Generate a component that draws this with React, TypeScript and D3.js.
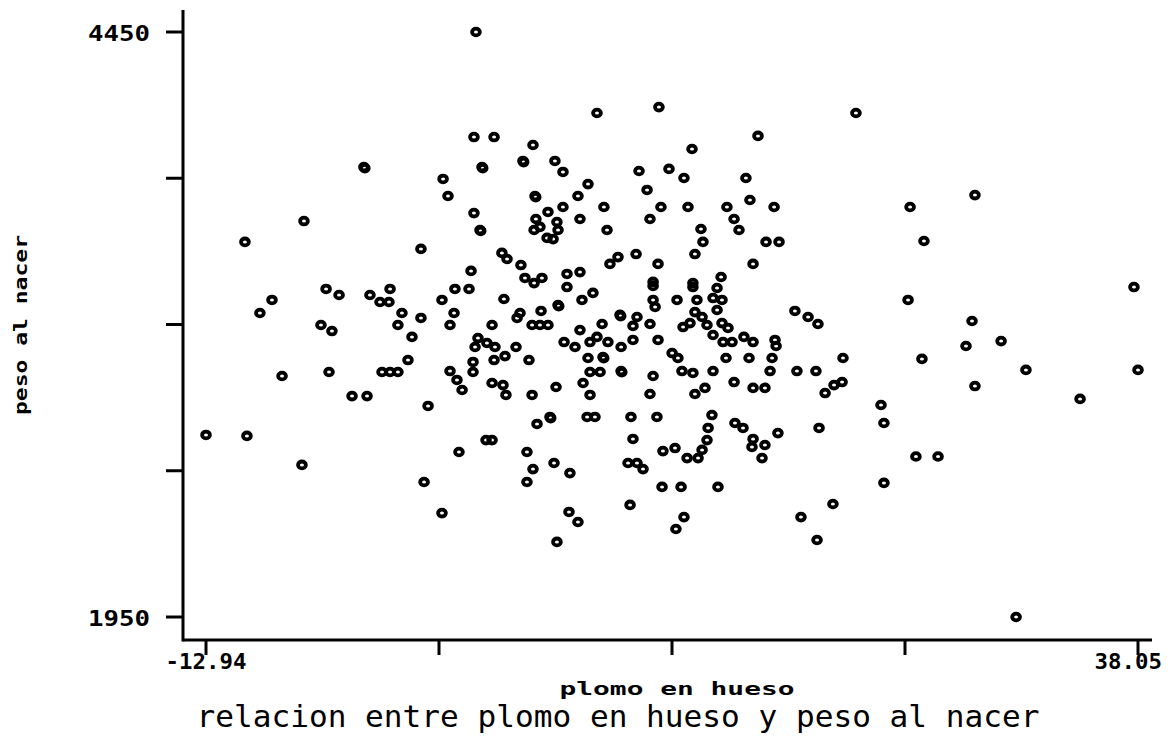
import React from 'react';
import * as d3 from 'd3';

// plomo en hueso (x) and peso al nacer (y)
const plomo = [
  -4.30, -7.58, -10.81, -1.18, -6.37, -5.66, -3.97, -2.87, -3.42, -2.93,
  -9.33, -9.99, -2.22, -1.18, -6.65, -6.05, -2.44, -1.67, -1.89, -6.21,
  -8.78, -3.31, -2.87, -2.44, -4.95, -4.13, -0.79, -12.94, -10.70, -7.69,
  -1.01, 1.83, 8.45, 1.72, 2.82, 4.95, 2.16, 4.40, 6.15, 6.59,
  10.75, 0.03, 7.96, 0.30, 5.06, 7.41, 6.59, 8.83, 1.72, 5.77,
  5.11, 6.26, 7.52, 5.01, 5.33, 6.32, 5.72, 6.05, 2.05, 9.00,
  10.59, 3.25, 3.53, 4.29, 9.60, 9.16, 1.56, 4.51, 5.44, 5.01,
  6.81, 7.52, 6.81, 0.68, 1.45, 11.84, 22.62, 17.26, 13.65, 12.39,
  13.21, 16.60, 11.19, 11.95, 13.43, 15.56, 16.82, 18.14, 11.35, 15.95,
  16.22, 14.14, 14.25, 17.70, 18.41, 13.81, 11.79, 16.99, 11.52, 13.70,
  15.24, 15.02, 14.80, 15.29, 15.02, -0.03, 3.36, 7.63, 6.32, 8.23,
  5.39, 4.24, 4.08, 0.63, 0.41, 2.71, 4.90, 5.33, 5.77, 9.71,
  7.52, 8.73, 1.94, 1.78, 2.43, 2.87, 2.82, 3.42, 4.02, 4.73,
  6.65, 7.25, 8.07, 8.45, 9.05, 9.77, 7.96, 8.78, 1.67, 1.67,
  0.41, 0.79, 1.07, 2.71, 3.31, 3.47, 4.90, 6.21, 8.07, 8.62,
  7.69, 8.07, 9.77, 5.88, 5.17, 7.91, 8.34, 10.31, 2.38, 2.71,
  10.42, 0.90, 4.62, 6.10, 10.15, 10.64, 11.52, 13.70, 11.52, 11.63,
  12.83, 13.92, 19.28, 20.00, 20.54, 10.64, 10.42, 11.35, 13.16, 13.54,
  13.81, 14.20, 14.47, 14.80, 15.29, 15.62, 10.42, 11.79, 15.35, 15.84,
  16.49, 16.99, 18.19, 18.25, 12.56, 12.88, 15.51, 16.77, 18.03, 21.91,
  17.92, 13.10, 13.70, 14.80, 19.39, 20.43, 11.52, 15.95, 16.99, 17.64,
  14.36, 13.81, 21.86, 21.42, 20.93, 11.35, 11.73, 14.74, 14.53, 14.47,
  16.00, 16.44, 18.35, 20.60, 16.99, 16.93, 17.64, 17.48, 12.06, 12.72,
  14.20, 13.98, 13.38, 4.95, 4.62, 6.97, 10.97, 12.01, 13.05, 15.07,
  10.26, -0.03, 6.92, 7.41, 13.21, 12.77, 6.26, 21.36, 19.61, 20.49,
  29.13, 25.58, 26.34, 37.83, 25.47, 28.97, 28.64, 30.56, 26.23, 31.92,
  38.05, 29.13, 34.88, 23.99, 24.15, 25.90, 27.11, 24.15, 31.38,
  // second hits on the blotted marks
  -4.25, 2.20, 4.44, 5.10, 2.09, 6.36, 9.75, 8.82, 9.81, 5.92
]

const peso = [
  3873, 3642, 3553, 3523, 3352, 3326, 3326, 3352, 3296, 3296,
  3305, 3249, 3249, 3228, 3198, 3172, 3198, 3147, 3048, 2997,
  2980, 2997, 2997, 2997, 2894, 2894, 2852, 2728, 2724, 2600,
  2527, 4450, 4104, 4001, 4001, 3967, 3873, 3899, 3899, 3852,
  3856, 3822, 3800, 3749, 3749, 3749, 3702, 3702, 3676, 3681,
  3651, 3638, 3651, 3604, 3617, 3604, 3570, 3565, 3604, 3604,
  3501, 3506, 3480, 3454, 3488, 3459, 3429, 3399, 3399, 3377,
  3416, 3424, 3360, 3352, 3352, 4129, 4104, 4006, 3950, 3865,
  3826, 3826, 3775, 3702, 3702, 3702, 3732, 3702, 3651, 3651,
  3604, 3608, 3553, 3553, 3553, 3501, 3459, 3459, 3382, 3377,
  3403, 3356, 3313, 3305, 3262, 3305, 3309, 3305, 3283, 3335,
  3258, 3249, 3228, 3249, 3198, 3198, 3198, 3198, 3198, 3241,
  3176, 3202, 3142, 3104, 3121, 3104, 3048, 3065, 3104, 3048,
  3125, 3104, 3125, 3147, 3125, 3104, 3057, 3061, 3040, 2997,
  3001, 2963, 2920, 2950, 2941, 2899, 2899, 2933, 2997, 2997,
  2950, 2899, 3001, 2805, 2775, 2805, 2805, 2805, 2706, 2706,
  2711, 2655, 2655, 2608, 2608, 2608, 3365, 3360, 3305, 3275,
  3305, 3305, 3258, 3232, 3202, 3232, 3194, 3202, 3189, 3206,
  3253, 3232, 3198, 3155, 3206, 3185, 3134, 3134, 3125, 3125,
  3147, 3125, 3134, 3108, 3078, 3057, 3057, 3057, 3057, 3057,
  3001, 3001, 2993, 3001, 3001, 3001, 2980, 2954, 2929, 2929,
  2929, 2903, 2954, 2941, 2907, 2903, 2805, 2813, 2758, 2706,
  2779, 2758, 2736, 2758, 2711, 2677, 2685, 2629, 2659, 2672,
  2664, 2629, 2629, 2582, 2527, 2565, 2582, 2506, 2506, 2506,
  2429, 2394, 2399, 2356, 2377, 2326, 2271, 2433, 2377, 2279,
  3753, 3702, 3557, 3360, 3305, 3215, 3108, 3129, 3053, 3006,
  3006, 2937, 2882, 2856, 2779, 2636, 2636, 2523, 1950,
  3868, 3868, 3894, 3744, 3600, 3278, 3236, 3056, 2996, 2800
]

const xTickLabels = ['-12.94', '', '', '', '38.05']
const yTickLabels = ['1950', '', '', '', '4450']

const xMin = -12.94, xMax = 38.05
const yMin = 1950, yMax = 4450

const pixelFont = "'DejaVu Sans Mono', monospace"

export default function App() {
  const width = 1169, height = 744
  const axisX = 183, axisY = 640

  const xScale = d3.scaleLinear().domain([xMin, xMax]).range([206, 1138])
  const yScale = d3.scaleLinear().domain([yMin, yMax]).range([617, 32])

  const xTicks = d3.range(5).map(i => xMin + i * (xMax - xMin) / 4)
  const yTicks = d3.range(5).map(i => yMin + i * (yMax - yMin) / 4)

  const points = plomo.map((d, i) => ({ x: d, y: peso[i] }))

  return (
    <svg width={width} height={height}
      style={{ position: 'absolute', left: 0, top: 0, background: '#fff' }}>
      <rect width={width} height={height} fill="#fff" />

      {/* axes */}
      <line x1={axisX} x2={axisX} y1={10} y2={axisY + 1.5} stroke="#000" strokeWidth={3} />
      <line x1={axisX} x2={1152} y1={axisY} y2={axisY} stroke="#000" strokeWidth={3} />

      {yTicks.map((t, i) => (
        <g key={'y' + i}>
          <line x1={166} x2={axisX} y1={yScale(t)} y2={yScale(t)} stroke="#000" strokeWidth={3} />
          {yTickLabels[i] &&
            <text x={150} y={yScale(t) + 3} textAnchor="end" dominantBaseline="middle"
              fontFamily={pixelFont} fontWeight="bold" fontSize={22}
              textLength={62} lengthAdjust="spacingAndGlyphs">{yTickLabels[i]}</text>}
        </g>
      ))}

      {xTicks.map((t, i) => {
        const last = i === xTicks.length - 1
        return (
          <g key={'x' + i}>
            <line x1={xScale(t)} x2={xScale(t)} y1={axisY} y2={655} stroke="#000" strokeWidth={3} />
            {xTickLabels[i] &&
              <text x={last ? 1162 : xScale(t)} y={663} textAnchor={last ? 'end' : 'middle'} dominantBaseline="middle"
                fontFamily={pixelFont} fontWeight="bold" fontSize={21}
                textLength={xTickLabels[i].length * 13.5} lengthAdjust="spacingAndGlyphs">{xTickLabels[i]}</text>}
          </g>
        )
      })}

      {/* points */}
      {points.map((p, i) => (
        <ellipse key={i} cx={xScale(p.x)} cy={yScale(p.y)} rx={3.9} ry={3.4}
          fill="none" stroke="#000" strokeWidth={3.8} />
      ))}

      {/* labels */}
      <text x={677} y={690} textAnchor="middle" dominantBaseline="middle"
        fontFamily={pixelFont} fontWeight="bold" fontSize={18} textLength={235} lengthAdjust="spacingAndGlyphs">plomo en hueso</text>
      <text x={618} y={718} textAnchor="middle" dominantBaseline="middle"
        fontFamily={pixelFont} fontSize={30} textLength={843} lengthAdjust="spacingAndGlyphs">relacion entre plomo en hueso y peso al nacer</text>
      <text transform="translate(22,325) rotate(-90)" textAnchor="middle" dominantBaseline="middle"
        fontFamily={pixelFont} fontWeight="bold" fontSize={17} textLength={180} lengthAdjust="spacingAndGlyphs">peso al nacer</text>
    </svg>
  )
}
